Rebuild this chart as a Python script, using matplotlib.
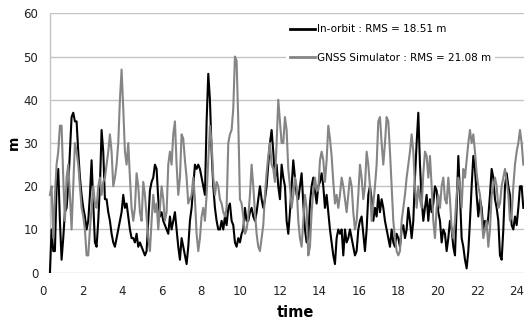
import numpy as np
import matplotlib
matplotlib.use("Agg")
import matplotlib.pyplot as plt

# time span of the records (hours)
t_start = 0.35
t_end = 24.32

# In-orbit position error (m)
in_orbit = [
    0, 10, 5, 5, 20, 24, 12, 3, 8, 14, 15, 20, 28, 36, 37, 35, 35, 28, 22, 18,
    15, 13, 10, 12, 18, 26, 16, 7, 6, 12, 20, 33, 28, 17, 17, 14, 12, 9, 7, 6,
    8, 10, 12, 14, 18, 15, 16, 13, 10, 8, 8, 7, 9, 6, 7, 6, 5, 4, 5, 12,
    19, 21, 22, 25, 24, 17, 13, 14, 12, 11, 10, 9,
    13, 10, 12, 14, 10, 6, 3, 8, 6, 4, 2, 6, 12, 15, 20, 25, 24, 25, 24, 22,
    20, 18, 35, 46, 40, 28, 20, 15, 12, 10, 10, 12, 10, 13, 11, 15, 16, 12, 11, 7,
    6, 8, 7, 9, 10, 15, 12, 12, 14, 15, 13, 12, 14, 17, 20, 17, 15, 17, 20, 25,
    30, 33, 28, 22, 25, 20, 17, 25, 22, 20, 12, 9, 14, 20, 26, 22, 18, 17, 20, 23,
    16, 10, 7, 8, 16, 20, 22, 19, 16, 20, 21, 23, 20, 15, 18, 14, 10, 7, 4, 2,
    8, 10,
    9, 10, 4, 10, 7, 8, 10, 8, 6, 4, 5, 10, 12, 13, 9, 5, 10, 18, 20, 17,
    12, 15, 13, 18, 14, 17, 15, 12, 10, 8, 6, 10, 7, 6, 9, 8, 6, 10, 11, 8,
    10, 15, 12, 8, 12, 22, 30, 37, 25, 17, 12, 15, 18, 12, 17, 14, 16, 20, 19, 14,
    12, 7, 10, 9, 5, 8, 12, 10, 6, 4, 15, 27, 18, 8, 6, 3, 1, 5, 12, 20,
    27, 24, 18, 13, 17, 15, 10, 12, 10, 13, 18, 24, 22, 17, 15, 12, 4, 3, 10, 20,
    23, 20, 18, 11, 10, 13, 11, 15, 20, 20, 15,
]

# GNSS simulator position error (m)
gnss_sim = [
    18, 20, 8, 18, 25, 28, 34, 34, 22, 12, 22, 25, 18, 10, 20, 30, 28, 25, 20, 15,
    13, 10, 4, 4, 10, 15, 20, 16, 15, 20, 22, 18, 21, 22, 25, 28, 32, 28, 20, 22,
    25, 30, 40, 47, 38, 28, 25, 30, 22, 15, 12, 15, 23, 20, 14, 12, 21, 18, 13, 8,
    5, 12, 18, 14, 16, 10, 15, 20, 17, 12, 14, 25,
    28, 25, 32, 35, 25, 18, 22, 32, 31, 26, 22, 16, 17, 18, 22, 17, 9, 5, 8, 13,
    15, 12, 18, 26, 34, 30, 22, 18, 21, 20, 17, 16, 14, 13, 15, 30, 32, 33, 38, 50,
    49, 35, 17, 16, 13, 9, 10, 13, 18, 25, 20, 14, 9, 6, 5, 8, 11, 18, 23, 27,
    30, 25, 24, 21, 30, 40, 35, 30, 30, 36, 33, 24, 20, 15, 18, 22, 20, 12, 8, 6,
    12, 18, 15, 4, 6, 14, 19, 22, 19, 19, 26, 28, 26, 21, 26, 34, 31, 27, 21, 16,
    18, 15,
    18, 22, 20, 17, 14, 18, 22, 20, 14, 10, 12, 18, 25, 22, 17, 20, 28, 25, 20, 12,
    16, 20, 25, 35, 36, 30, 25, 30, 36, 35, 28, 20, 12, 8, 5, 4, 5, 12, 15, 18,
    22, 25, 28, 32, 28, 20, 15, 20, 17, 15, 23, 28, 27, 22, 27, 20, 12, 8, 15, 18,
    15, 20, 22, 17, 16, 22, 17, 10, 8, 12, 18, 22, 20, 15, 24, 22, 26, 30, 33, 30,
    32, 28, 23, 20, 18, 13, 8, 10, 12, 6, 10, 18, 20, 22, 20, 15, 16, 20, 22, 24,
    21, 18, 12, 13, 20, 25, 28, 30, 33, 30, 25,
]

x_ticks = list(range(0, 25, 2))
y_ticks = list(range(0, 61, 10))
labels = ["In-orbit : RMS = 18.51 m", "GNSS Simulator : RMS = 21.08 m"]

t_orbit = np.linspace(t_start, t_end, len(in_orbit))
t_sim = np.linspace(t_start, t_end, len(gnss_sim))

W, H = 529, 323
fig = plt.figure(figsize=(W / 100, H / 100), dpi=100)
x0, x1 = 43, 524
y_bot, y_top = 272.7, 13.3
ax = fig.add_axes([x0 / W, (H - y_bot) / H, (x1 - x0) / W, (y_bot - y_top) / H])
xmax = (x1 - x0) / 19.75

# grid and axis lines start at the first sample, like the original
ax.hlines(y_ticks, t_start, xmax, colors="#c4c4c4", lw=1.0, zorder=0)
ax.vlines(t_start, 0, 60, colors="#c4c4c4", lw=1.0, zorder=0)

ax.plot(t_orbit, in_orbit, color="black", lw=1.5, label=labels[0])
ax.plot(t_sim, gnss_sim, color="#858585", lw=1.5, label=labels[1])

ax.set_xlim(0, xmax)
ax.set_ylim(0, 60)
ax.set_xticks(x_ticks)
ax.set_yticks(y_ticks)
ax.tick_params(length=0, labelsize=8.5, colors="#222222")
ax.tick_params(axis="x", pad=8.5)
ax.tick_params(axis="y", pad=3.5)
for s in ax.spines.values():
    s.set_visible(False)

ax.set_xlabel("time", fontsize=10.5, fontweight="bold")
ax.xaxis.set_label_coords((295 - x0) / (x1 - x0), -(305 - y_bot) / (y_bot - y_top))
ax.set_ylabel("m", fontsize=10, fontweight="bold")
ax.yaxis.set_label_coords(-(x0 - 21) / (x1 - x0), 0.5)

leg = ax.legend(loc="upper left", bbox_to_anchor=(286 / W, 1 - 20 / H),
                bbox_transform=fig.transFigure, fontsize=7.5, frameon=True,
                fancybox=False, borderpad=0.4, labelspacing=1.8,
                handlelength=2.4, handletextpad=0.17, borderaxespad=0)
leg.get_frame().set_facecolor("white")
leg.get_frame().set_edgecolor("none")
leg.get_frame().set_alpha(1)
for line in leg.get_lines():
    line.set_linewidth(2)

fig.savefig("out.png", dpi=100)
